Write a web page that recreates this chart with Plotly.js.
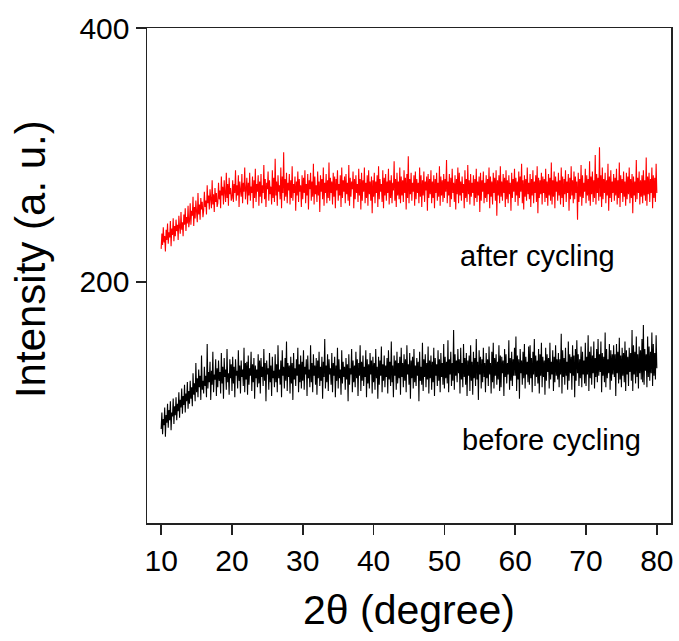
<!DOCTYPE html>
<html>
<head>
<meta charset="utf-8">
<script src="https://cdn.plot.ly/plotly-3.0.1.min.js"></script>
<style>html,body{margin:0;padding:0;background:#fff;}#chart{width:679px;height:641px;}</style>
</head>
<body>
<div id="chart"></div>
<script>
// 2-theta sampling grid (degrees)
var thetaStart = 10.0;
var thetaStep = 0.1;

// Intensity after cycling (red), 10.0 .. 80.0 deg
var afterCycling = [
226,238,229,243,231,236,224,241,233,246,230,239,235,248,228,242,237,250,232,244,
236,249,240,245,233,252,243,238,255,241,247,236,253,245,258,240,251,246,260,243,
248,262,245,256,252,267,244,259,250,264,255,247,270,253,261,249,266,257,263,251,
256,271,259,264,253,276,262,268,257,273,265,258,280,261,269,255,274,263,270,259,
262,278,265,272,258,283,268,275,261,280,270,263,286,266,277,260,282,269,274,264,
266,280,263,277,270,288,264,276,268,284,259,279,272,267,285,262,278,271,290,265,
273,282,261,278,268,286,264,275,270,283,258,280,266,289,263,277,271,284,260,279,
267,285,262,276,270,292,265,281,259,278,273,287,264,280,269,275,261,288,266,282,
263,297,268,279,260,284,271,276,265,290,258,283,270,302,264,281,267,286,262,278,
272,285,261,280,266,291,264,277,270,283,256,279,268,287,263,281,271,276,259,284,
265,282,270,288,262,277,268,285,257,280,273,286,264,279,267,293,261,283,269,276,
263,287,268,279,255,284,271,281,265,290,260,278,270,285,262,280,266,294,264,282,
270,279,261,286,267,283,258,281,272,288,264,277,268,284,259,290,266,280,271,283,
262,285,269,278,264,292,260,282,267,279,273,287,258,281,265,284,270,277,263,289,
268,281,257,286,264,280,271,290,262,278,266,284,260,288,269,279,264,283,254,280,
267,286,262,279,270,284,259,291,265,281,271,277,263,288,258,282,268,285,264,279,
270,289,261,280,266,284,262,278,272,295,264,281,259,286,268,279,265,290,262,283,
268,280,263,288,270,282,257,285,266,299,262,281,269,286,264,278,271,284,260,287,
265,281,270,278,262,290,267,284,259,280,268,287,263,279,272,283,256,285,266,281,
269,288,262,279,266,284,258,281,270,286,264,278,267,291,260,283,268,280,263,285,
266,281,271,296,262,279,268,285,259,282,265,289,270,278,263,284,257,281,269,290,
262,286,268,279,264,283,270,277,258,288,266,281,263,292,269,280,261,285,267,278,
270,284,260,281,266,289,263,279,268,283,255,286,264,280,271,287,262,278,266,284,
263,281,269,290,258,283,267,279,261,286,270,282,264,288,252,280,268,284,262,291,
267,279,264,285,270,282,259,288,265,280,262,284,269,278,256,286,266,281,271,289,
263,282,268,279,260,287,266,283,271,293,262,280,257,284,267,281,264,290,269,278,
265,285,259,281,268,288,262,279,270,284,263,291,254,282,266,280,269,286,261,283,
270,281,263,289,266,279,260,285,268,282,264,294,261,280,267,287,258,283,271,279,
264,286,268,280,261,290,266,283,259,281,269,288,263,279,270,285,256,282,265,291,
268,280,262,287,265,283,270,279,249,286,263,281,267,292,260,284,266,278,271,289,
262,284,268,281,264,295,260,283,269,287,263,280,266,300,261,285,270,282,264,306,
267,284,259,290,265,281,270,286,262,280,268,293,256,283,266,288,263,279,270,285,
264,282,268,289,261,280,266,294,259,284,270,281,263,287,267,279,260,286,265,283,
269,290,262,281,266,285,254,283,268,279,263,296,265,282,270,287,261,280,267,284,
262,288,268,280,264,298,260,283,269,286,263,281,270,290,258,284,266,282,263,293,
270
];

// Intensity before cycling (black), 10.0 .. 80.0 deg
var beforeCycling = [
84,97,80,92,87,101,78,95,89,104,85,99,91,106,83,97,94,108,88,102,
95,109,91,104,98,113,93,107,101,116,96,110,103,119,97,112,106,121,100,114,
104,122,108,117,102,128,111,120,106,136,113,124,109,131,117,126,107,142,115,122,
112,133,118,126,109,151,116,129,121,137,107,130,119,145,113,127,123,139,110,132,
117,138,122,129,112,144,120,133,108,140,125,131,115,147,121,128,111,139,124,135,
114,141,120,133,109,139,126,130,116,146,122,134,112,138,125,131,118,148,113,136,
123,137,111,142,119,132,126,145,114,135,121,140,108,134,124,131,117,143,120,138,
112,140,125,133,118,147,122,136,106,138,127,132,115,144,121,134,110,141,124,130,
117,143,121,135,113,150,124,131,119,138,109,146,126,133,116,140,122,153,114,136,
125,134,112,141,120,136,107,144,123,132,118,139,126,148,113,135,121,142,116,137,
122,146,115,133,127,139,110,142,124,131,117,150,121,136,113,143,126,134,119,140,
111,138,124,145,118,133,122,141,108,137,125,155,116,134,121,143,114,139,127,132,
119,144,113,136,126,141,109,134,122,148,116,139,124,131,111,146,120,137,125,133,
115,140,123,135,106,143,119,132,127,147,113,138,121,134,117,145,124,139,110,136,
126,150,114,137,122,142,118,133,125,146,109,139,120,135,116,144,127,138,112,141,
121,136,115,147,124,133,108,141,119,138,126,149,113,135,122,142,117,134,125,140,
112,146,123,137,118,153,121,134,109,142,126,138,115,145,120,136,124,141,111,148,
125,136,117,143,122,139,113,150,127,135,119,144,108,138,124,141,116,147,121,134,
118,140,126,137,106,145,122,133,119,152,114,139,125,143,117,136,123,149,112,138,
124,142,115,137,121,148,110,140,126,135,118,146,122,139,113,144,125,136,119,151,
116,141,124,137,120,154,113,139,127,145,118,136,122,162,115,143,126,138,121,147,
128,139,112,148,123,136,117,151,125,140,119,144,110,138,126,142,114,150,122,137,
111,145,124,140,118,155,123,137,107,146,127,141,116,139,121,148,125,136,113,144,
124,139,118,149,127,136,112,145,121,152,116,140,126,143,119,137,123,150,114,142,
117,141,128,138,110,147,125,143,120,136,127,154,115,140,122,145,118,139,126,148,
126,157,114,142,123,139,108,147,128,138,119,145,124,151,116,141,127,137,121,149,
119,150,124,140,113,145,127,155,118,142,125,138,120,147,112,143,126,152,117,141,
125,138,111,148,122,143,129,140,116,152,123,137,127,146,114,141,121,150,126,139,
123,144,117,139,127,159,112,146,125,140,119,148,126,137,115,153,122,143,128,141,
115,150,126,142,109,147,122,154,128,143,118,139,124,149,117,145,127,138,120,152,
118,141,127,158,114,145,124,149,119,142,128,153,116,140,125,147,121,155,126,143,
129,153,113,144,126,141,121,160,117,147,124,139,128,151,115,146,122,143,127,150,
125,143,110,151,128,145,120,156,123,142,117,148,126,144,121,153,114,146,127,141,
118,148,129,144,122,162,114,150,127,145,120,157,125,143,116,149,128,146,123,155,
121,166,119,147,130,143,117,157,125,149,122,145,128,160,118,151,126,144,123,158,
132
];

var xTickVals = [10,20,30,40,50,60,70,80];
var yTickVals = [200,400];
var seriesLabels = ["after cycling", "before cycling"];
var xTitle = "2\u03B8 (degree)";
var yTitle = "Intensity (a. u.)";

var twoTheta = [];
for (var i = 0; i < afterCycling.length; i++) {
  twoTheta.push(Math.round((thetaStart + i * thetaStep) * 100) / 100);
}

var font = "Liberation Sans, Arial, sans-serif";

var traces = [
  {x: twoTheta, y: afterCycling, type: "scatter", mode: "lines", name: seriesLabels[0],
   line: {color: "#ff0000", width: 1.1}},
  {x: twoTheta, y: beforeCycling, type: "scatter", mode: "lines", name: seriesLabels[1],
   line: {color: "#000000", width: 1.1}}
];

var layout = {
  width: 679, height: 641,
  margin: {l: 147, r: 8, t: 28, b: 118},
  paper_bgcolor: "#fff", plot_bgcolor: "#fff",
  showlegend: false,
  font: {family: font, color: "#000"},
  xaxis: {
    range: [8, 82], tickvals: xTickVals, ticktext: xTickVals.map(String),
    ticks: "outside", ticklen: 10, tickwidth: 1.5, tickcolor: "#222",
    showline: true, linecolor: "#222", linewidth: 1.5, mirror: true,
    showgrid: false, zeroline: false,
    tickfont: {size: 30, family: font},
    title: {text: xTitle, font: {size: 41, family: font}, standoff: 20}
  },
  yaxis: {
    range: [10, 400], tickvals: yTickVals, ticktext: yTickVals.map(String),
    ticks: "outside", ticklen: 10, tickwidth: 1.5, tickcolor: "#222",
    showline: true, linecolor: "#222", linewidth: 1.5, mirror: true,
    showgrid: false, zeroline: false,
    tickfont: {size: 30, family: font}
  },
  annotations: [
    {x: 63.2, y: 220.5, xref: "x", yref: "y", text: seriesLabels[0], showarrow: false,
     font: {size: 29, family: font, color: "#000"}},
    {x: 65.1, y: 75.6, xref: "x", yref: "y", text: seriesLabels[1], showarrow: false,
     font: {size: 29, family: font, color: "#000"}},
    {x: -0.2235, y: 0.533, xref: "paper", yref: "paper", text: yTitle, showarrow: false,
     textangle: -90, xanchor: "center", yanchor: "middle",
     font: {size: 42, family: font, color: "#000"}}
  ]
};

Plotly.newPlot("chart", traces, layout, {displayModeBar: false, staticPlot: true});
</script>
</body>
</html>
